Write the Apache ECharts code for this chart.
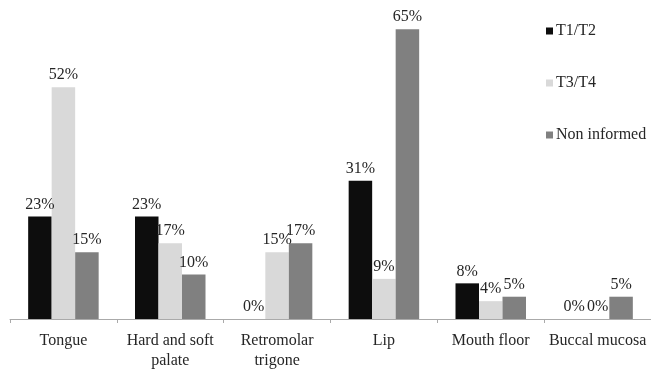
<!DOCTYPE html>
<html>
<head>
<meta charset="utf-8">
<script src="https://cdn.jsdelivr.net/npm/echarts@6/dist/echarts.min.js"></script>
<style>
  html, body { margin: 0; padding: 0; background: #fff; }
  #chart { width: 651px; height: 371px; }
</style>
</head>
<body>
<div id="chart"></div>
<script>
// Tumour stage distribution by oral cavity site (percent)
const categories = ['Tongue', 'Hard and soft\npalate', 'Retromolar\ntrigone', 'Lip', 'Mouth floor', 'Buccal mucosa'];
const t1t2 = [23, 23, 0, 31, 8, 0];
const t3t4 = [52, 17, 15, 9, 4, 0];
const nonInformed = [15, 10, 17, 65, 5, 5];
const seriesNames = ['T1/T2', 'T3/T4', 'Non informed'];
const seriesColors = ['#0d0d0d', '#d9d9d9', '#808080'];

const font = '"Liberation Serif", "Times New Roman", serif';

function makeSeries(name, data, color) {
  return {
    name: name,
    type: 'bar',
    data: data,
    barWidth: 23.5,
    barGap: '0%',
    itemStyle: { color: color },
    label: {
      show: true,
      position: 'top',
      distance: 4,
      formatter: '{c}%',
      color: '#262626',
      fontFamily: font,
      fontSize: 16
    },
    emphasis: { disabled: true }
  };
}

const chart = echarts.init(document.getElementById('chart'));
chart.setOption({
  animation: false,
  textStyle: { fontFamily: font },
  legend: {
    orient: 'vertical',
    left: 541,
    top: 18,
    itemWidth: 7,
    itemHeight: 7,
    itemGap: 36,
    icon: 'rect',
    textStyle: { fontFamily: font, fontSize: 16, color: '#262626', padding: [0, 0, 0, -2] },
    data: seriesNames
  },
  grid: { left: 10, top: 7, width: 642, height: 315, containLabel: false },
  xAxis: {
    type: 'category',
    data: categories,
    axisLine: { lineStyle: { color: '#aaa', width: 1 } },
    axisTick: { show: true, length: 4, lineStyle: { color: '#aaa' } },
    axisLabel: {
      interval: 0,
      margin: 12,
      color: '#262626',
      fontFamily: font,
      fontSize: 16,
      lineHeight: 20
    }
  },
  yAxis: {
    type: 'value',
    min: 0,
    max: 70,
    show: false,
    splitLine: { show: false }
  },
  series: [
    makeSeries(seriesNames[0], t1t2, seriesColors[0]),
    makeSeries(seriesNames[1], t3t4, seriesColors[1]),
    makeSeries(seriesNames[2], nonInformed, seriesColors[2])
  ]
});
</script>
</body>
</html>
